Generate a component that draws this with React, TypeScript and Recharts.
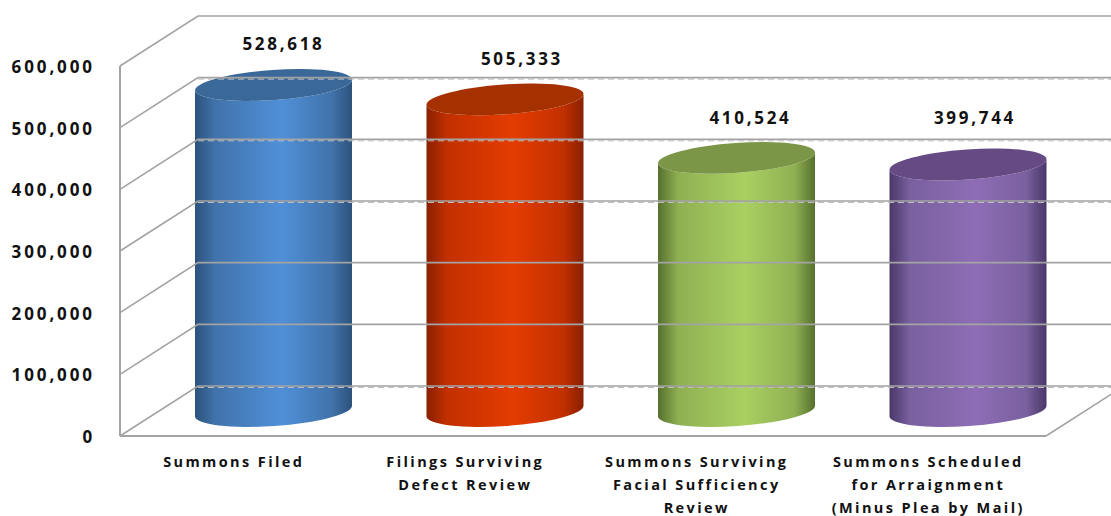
import React from 'react';
import { Bar, BarChart, LabelList, ReferenceLine, XAxis, YAxis } from 'recharts';

const categories = [
  'Summons Filed',
  'Filings Surviving\nDefect Review',
  'Summons Surviving\nFacial Sufficiency\nReview',
  'Summons Scheduled\nfor Arraignment\n(Minus Plea by Mail)',
];
const summonsValues = [528618, 505333, 410524, 399744];
const yTicks = [0, 100000, 200000, 300000, 400000, 500000, 600000];
// these gridlines have a broken light edge under them in the source image
const brokenLines = [0, 300000, 400000, 500000];

const tableData = categories.map((name, i) => ({ name, value: summonsValues[i] }));

// edge, shoulder, centre, top cap
const palettes = [
  ['#2c527c', '#4173ab', '#5090d8', '#3a6898'],
  ['#882000', '#c23000', '#e43c00', '#a53000'],
  ['#56702e', '#8fb052', '#aad062', '#7b9647'],
  ['#4a3768', '#79609f', '#8e6db6', '#654a84'],
];

const DEPTH_X = 78;
const DEPTH_Y = 50;
const GRID = '#a3a3a3';
const FONT = '"Open Sans", sans-serif';
const INK = '#111';

// the cylinders stand in the middle of the floor
const MID_X = 38;
const MID_Y = DEPTH_Y / 2;
const RX = 78.5;
const RY = 15;
const TILT = 5.5;
const labelNudgeX = [10, 17, 14, 7];
const labelNudgeY = [0, 1, 1, -5];

function Cylinder(props: any) {
  const { x, y, width, height, index } = props;
  const [edge, shoulder, centre, cap] = palettes[index];
  const cx = x + width / 2 + MID_X;
  const top = y - MID_Y;
  const base = y + height - MID_Y;
  const arcR = Math.sqrt(RX * RX + TILT * TILT);
  const left = cx - RX;
  const right = cx + RX;
  const arc = (toX: number, toY: number, sweep: number) =>
    `A${arcR} ${RY} -4 0 ${sweep} ${toX} ${toY}`;
  const body = [
    `M${left} ${top + TILT}`,
    `L${left} ${base + TILT}`,
    arc(right, base - TILT, 0),
    `L${right} ${top - TILT}`,
    arc(left, top + TILT, 1),
    'Z',
  ].join(' ');
  const capPath = [`M${left} ${top + TILT}`, arc(right, top - TILT, 1), arc(left, top + TILT, 1), 'Z'].join(' ');
  const gradId = `cyl-${index}`;
  return (
    <g>
      <defs>
        <linearGradient id={gradId} x1="0" x2="1" y1="0" y2="0">
          <stop offset="0" stopColor={edge} />
          <stop offset="0.13" stopColor={shoulder} />
          <stop offset="0.55" stopColor={centre} />
          <stop offset="0.87" stopColor={shoulder} />
          <stop offset="1" stopColor={edge} />
        </linearGradient>
      </defs>
      <path d={body} fill={`url(#${gradId})`} />
      <path d={capPath} fill={cap} />
    </g>
  );
}

function ValueLabel(props: any) {
  const { x, y, width, value, index } = props;
  return (
    <text
      x={x + width / 2 + MID_X + labelNudgeX[index]}
      y={y - MID_Y - 35 + labelNudgeY[index]}
      textAnchor="middle"
      fontFamily={FONT}
      fontWeight={700}
      fontSize={17}
      letterSpacing={2.7}
      fill={INK}
    >
      {Number(value).toLocaleString('en-US')}
    </text>
  );
}

function CategoryTick(props: any) {
  const { x, y, payload } = props;
  const lines = String(payload.value).split('\n');
  return (
    <text
      x={x - 2}
      y={y}
      textAnchor="middle"
      fontFamily={FONT}
      fontWeight={700}
      fontSize={14.5}
      letterSpacing={2.4}
      fill={INK}
    >
      {lines.map((line, i) => (
        <tspan key={line} x={x - 2} dy={23}>
          {line}
        </tspan>
      ))}
    </text>
  );
}

function ValueTick(props: any) {
  const { x, y, payload } = props;
  return (
    <text
      x={x}
      y={y + 7}
      textAnchor="end"
      fontFamily={FONT}
      fontWeight={700}
      fontSize={17}
      letterSpacing={2.9}
      fill={INK}
    >
      {Number(payload.value).toLocaleString('en-US')}
    </text>
  );
}

// one gridline: up the side wall, then along the back wall
function wallLine(value: number) {
  return function WallLine(props: any) {
    const { x1, y1, x2 } = props;
    const backY = y1 - DEPTH_Y;
    return (
      <g fill="none">
        <polyline points={`${x1},${y1} ${x1 + DEPTH_X},${backY} ${x2 + DEPTH_X},${backY}`} stroke={GRID} strokeWidth={1.6} />
        {brokenLines.includes(value) && (
          <line x1={x1 + DEPTH_X} y1={backY + 1.5} x2={x2 + DEPTH_X} y2={backY + 1.5} stroke="#bdbdbd" strokeWidth={1} strokeDasharray="6 4" />
        )}
        {value === 0 && <line x1={x2} y1={y1} x2={x2 + DEPTH_X} y2={backY} stroke={GRID} strokeWidth={1.6} />}
      </g>
    );
  };
}

export default function App() {
  return (
    <div style={{ position: 'absolute', left: 0, top: 0, width: 1111, height: 516, overflow: 'hidden', background: '#fff' }}>
      <BarChart width={1111} height={516} data={tableData} margin={{ top: 66, right: 65, bottom: 0, left: 0 }} barSize={157}>
        <XAxis
          dataKey="name"
          interval={0}
          height={80}
          tickLine={false}
          axisLine={{ stroke: GRID, strokeWidth: 2 }}
          tick={<CategoryTick />}
        />
        <YAxis
          width={120}
          domain={[0, 600000]}
          ticks={yTicks}
          interval={0}
          tickLine={false}
          tickSize={0}
          tickMargin={25}
          axisLine={{ stroke: GRID, strokeWidth: 2 }}
          tick={<ValueTick />}
        />
        {yTicks.map((t) => (
          <ReferenceLine key={t} y={t} shape={wallLine(t)} />
        ))}
        <Bar dataKey="value" isAnimationActive={false} shape={<Cylinder />}>
          <LabelList dataKey="value" content={<ValueLabel />} />
        </Bar>
      </BarChart>
    </div>
  );
}
